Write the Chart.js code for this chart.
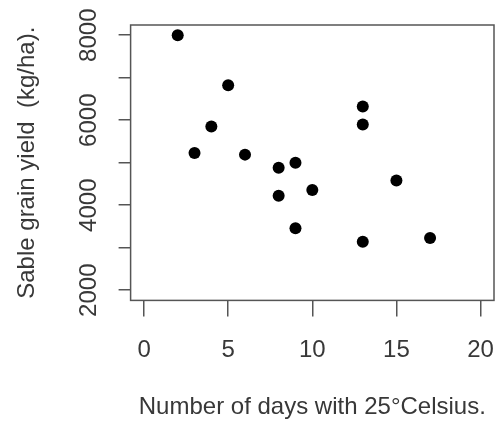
<!DOCTYPE html>
<html>
<head>
<meta charset="utf-8">
<script src="https://cdn.jsdelivr.net/npm/chart.js@4"></script>
<style>
  body { margin: 0; background: #fff; }
  canvas { display: block; }
</style>
</head>
<body>
<canvas id="grafico" width="500" height="426"></canvas>
<script>
// dias com 25 graus e produtividade
const dias = [2, 3, 4, 5, 6, 8, 8, 9, 9, 10, 13, 13, 13, 15, 17];
const produtividade = [8000, 5230, 5850, 6820, 5190, 4880, 4220, 5000, 3460, 4360, 6320, 5900, 3140, 4580, 3230];
const ticksX = [0, 5, 10, 15, 20];
const ticksY = [2000, 3000, 4000, 5000, 6000, 7000, 8000];
const rotulosY = [2000, 4000, 6000, 8000];

const corTexto = "#383838";
const corEixo = "#555";
const fonte = "'Liberation Sans', Arial, sans-serif";

const pontos = dias.map((d, i) => ({ x: d, y: produtividade[i] }));

// moldura em volta da area do grafico (estilo R)
const moldura = {
  id: "moldura",
  beforeDatasetsDraw(chart) {
    const { ctx, chartArea: a } = chart;
    ctx.save();
    ctx.strokeStyle = corEixo;
    ctx.lineWidth = 1.5;
    ctx.strokeRect(a.left, a.top, a.right - a.left, a.bottom - a.top);
    ctx.restore();
  }
};

const semPadding = s => { s.paddingLeft = 0; s.paddingRight = 0; s.paddingTop = 0; s.paddingBottom = 0; };

new Chart(document.getElementById("grafico").getContext("2d"), {
  type: "scatter",
  data: {
    datasets: [{
      data: pontos,
      backgroundColor: "#000",
      borderWidth: 0,
      pointRadius: 6,
      pointHoverRadius: 6
    }]
  },
  options: {
    responsive: false,
    animation: false,
    layout: { padding: { top: 25, right: 3, left: 0, bottom: 0 } },
    plugins: { legend: { display: false }, tooltip: { enabled: false } },
    scales: {
      x: {
        type: "linear",
        min: -0.8,
        max: 20.8,
        afterFit: semPadding,
        border: { display: false },
        grid: { drawOnChartArea: false, tickLength: 16, color: corEixo, lineWidth: 1.5 },
        afterBuildTicks: s => { s.ticks = ticksX.map(v => ({ value: v })); },
        ticks: {
          padding: 20,
          color: corTexto,
          font: { family: fonte, size: 24 },
          maxRotation: 0,
          autoSkip: false,
          callback: v => String(v)
        },
        title: {
          display: true,
          text: "Number of days with 25°Celsius.",
          color: corTexto,
          font: { family: fonte, size: 24 },
          padding: { top: 8, bottom: 4 }
        }
      },
      y: {
        type: "linear",
        min: 1760,
        max: 8240,
        afterFit: semPadding,
        border: { display: false },
        grid: { drawOnChartArea: false, tickLength: 12, color: corEixo, lineWidth: 1.5 },
        afterBuildTicks: s => { s.ticks = ticksY.map(v => ({ value: v })); },
        ticks: {
          padding: 3,
          color: corTexto,
          font: { family: fonte, size: 24 },
          minRotation: 90,
          maxRotation: 90,
          crossAlign: "center",
          autoSkip: false,
          callback: v => rotulosY.includes(v) ? String(v) : ""
        },
        title: {
          display: true,
          text: "Sable grain yield  (kg/ha).",
          color: corTexto,
          font: { family: fonte, size: 24 },
          padding: { top: 13, bottom: 42 }
        }
      }
    }
  },
  plugins: [moldura]
});
</script>
</body>
</html>
